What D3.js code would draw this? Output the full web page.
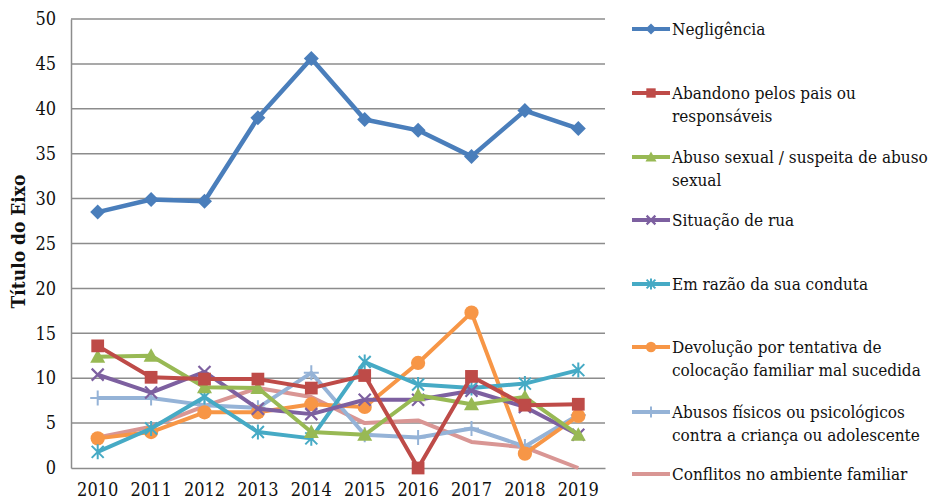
<!DOCTYPE html>
<html>
<head>
<meta charset="utf-8">
<script src="https://cdn.jsdelivr.net/npm/d3@7/dist/d3.min.js"></script>
<style>
  html, body { margin: 0; padding: 0; background: #fff; }
  svg { display: block; }
  text { font-family: "DejaVu Serif Condensed", "DejaVu Serif", serif; fill: #111; }
</style>
</head>
<body>
<svg id="chart" width="943" height="501"></svg>
<script>
// Categories (years) and y-axis ticks
const years = ["2010", "2011", "2012", "2013", "2014", "2015", "2016", "2017", "2018", "2019"];
const yTicks = [0, 5, 10, 15, 20, 25, 30, 35, 40, 45, 50];

// Series names
const seriesNames = [
  "Negligência",
  "Abandono pelos pais ou responsáveis",
  "Abuso sexual / suspeita de abuso sexual",
  "Situação de rua",
  "Em razão da sua conduta",
  "Devolução por tentativa de colocação familiar mal sucedida",
  "Abusos físicos ou psicológicos contra a criança ou adolescente",
  "Conflitos no ambiente familiar"
];

// Series values, one array per series
const negligencia = [28.5, 29.9, 29.7, 39.0, 45.6, 38.8, 37.6, 34.7, 39.8, 37.8];
const abandono     = [13.6, 10.1, 9.9, 9.9, 8.9, 10.3, 0.0, 10.2, 7.0, 7.1];
const abusoSexual  = [12.4, 12.5, 9.0, 8.9, 4.0, 3.7, 8.1, 7.1, 7.9, 3.7];
const situacaoRua  = [10.4, 8.4, 10.7, 6.6, 6.0, 7.6, 7.6, 8.6, 6.8, 3.7];
const conduta      = [1.8, 4.4, 7.9, 4.0, 3.3, 11.8, 9.3, 8.9, 9.4, 10.9];
const devolucao    = [3.3, 4.0, 6.2, 6.2, 7.1, 6.8, 11.7, 17.3, 1.6, 5.8];
const abusosFisicos = [7.8, 7.8, 7.0, 6.7, 10.6, 3.7, 3.4, 4.4, 2.4, 5.9];
const conflitos    = [3.4, 4.6, 6.9, 8.9, 7.9, 5.0, 5.3, 2.9, 2.3, 0.0];

// Legend text broken into lines
const legendLines = [
  ["Negligência"],
  ["Abandono pelos pais ou", "responsáveis"],
  ["Abuso sexual / suspeita de abuso", "sexual"],
  ["Situação de rua"],
  ["Em razão da sua conduta"],
  ["Devolução por tentativa de", "colocação familiar mal sucedida"],
  ["Abusos físicos ou psicológicos", "contra a criança ou adolescente"],
  ["Conflitos no ambiente familiar"]
];

const colors = ["#4A7EBB", "#BE4B48", "#98B954", "#7D60A0", "#46AAC5", "#F79646", "#95B3D7", "#D99694"];
const markers = ["diamond", "square", "triangle", "x", "asterisk", "circle", "plus", "none"];

const values = [negligencia, abandono, abusoSexual, situacaoRua, conduta, devolucao, abusosFisicos, conflitos];
const series = seriesNames.map((name, i) => ({ name, values: values[i], color: colors[i], marker: markers[i], lines: legendLines[i] }));

const svg = d3.select("#chart");
const plot = { left: 71, right: 605, top: 19, bottom: 468 };

const x = d3.scaleBand().domain(years).range([plot.left, plot.right]);
const xc = d => x(d) + x.bandwidth() / 2;
const y = d3.scaleLinear().domain([0, 50]).range([plot.bottom, plot.top]);

// Horizontal gridlines
svg.append("g")
  .selectAll("line")
  .data(yTicks.filter(t => t > 0))
  .join("line")
  .attr("x1", plot.left).attr("x2", plot.right)
  .attr("y1", d => y(d)).attr("y2", d => y(d))
  .attr("stroke", "#8c8c8c").attr("stroke-width", 1.5);

const tickFont = "DejaVu Serif Condensed, DejaVu Serif, serif";

// Y axis
const yAxis = svg.append("g")
  .attr("transform", `translate(${plot.left},0)`)
  .call(d3.axisLeft(y).tickValues(yTicks).tickSize(0).tickPadding(15));
yAxis.select(".domain").attr("stroke", "#8c8c8c").attr("stroke-width", 1.5);
yAxis.selectAll("text").style("font-family", tickFont).style("font-size", "18px").attr("fill", "#111");

// X axis
const xAxis = svg.append("g")
  .attr("transform", `translate(0,${plot.bottom})`)
  .call(d3.axisBottom(x).tickSize(0).tickPadding(15));
xAxis.select(".domain").attr("stroke", "#8c8c8c").attr("stroke-width", 1.5);
xAxis.selectAll("text").style("font-family", tickFont).style("font-size", "18px").attr("fill", "#111");

// Axis title
svg.append("text")
  .attr("transform", `translate(18,${(plot.top + plot.bottom) / 2 - 2}) rotate(-90)`)
  .attr("text-anchor", "middle")
  .attr("dy", "0.35em")
  .style("font-size", "19px").style("font-weight", "bold")
  .text("Título do Eixo");

// Marker drawing
function drawMarker(g, type, color, size) {
  const s = size;
  switch (type) {
    case "diamond":
      g.append("path").attr("d", `M0,${-s}L${s},0L0,${s}L${-s},0Z`).attr("fill", color);
      break;
    case "square":
      g.append("rect").attr("x", -s * 0.85).attr("y", -s * 0.85).attr("width", s * 1.7).attr("height", s * 1.7).attr("fill", color);
      break;
    case "triangle":
      g.append("path").attr("d", `M0,${-s}L${s},${s * 0.8}L${-s},${s * 0.8}Z`).attr("fill", color);
      break;
    case "circle":
      g.append("circle").attr("r", s * 0.95).attr("fill", color);
      break;
    case "x":
      g.append("path").attr("d", `M${-s * 0.8},${-s * 0.8}L${s * 0.8},${s * 0.8}M${-s * 0.8},${s * 0.8}L${s * 0.8},${-s * 0.8}`)
        .attr("stroke", color).attr("stroke-width", 2.2);
      break;
    case "asterisk":
      g.append("path").attr("d", `M${-s * 0.8},${-s * 0.8}L${s * 0.8},${s * 0.8}M${-s * 0.8},${s * 0.8}L${s * 0.8},${-s * 0.8}M0,${-s}L0,${s}`)
        .attr("stroke", color).attr("stroke-width", 2);
      break;
    case "plus":
      g.append("path").attr("d", `M${-s},0L${s},0M0,${-s}L0,${s}`)
        .attr("stroke", color).attr("stroke-width", 2);
      break;
  }
}

const line = d3.line().x((d, i) => xc(years[i])).y(d => y(d));

// Lines, drawn back to front so the first series sits on top
const seriesG = svg.append("g");
series.slice().reverse().forEach((s, k) => {
  const g = seriesG.append("g");
  g.append("path")
    .attr("d", line(s.values))
    .attr("fill", "none")
    .attr("stroke", s.color)
    .attr("stroke-width", s.name === "Negligência" ? 4.5 : 4)
    .attr("stroke-linejoin", "round");
  if (s.marker !== "none") {
    s.values.forEach((v, i) => {
      const m = g.append("g").attr("transform", `translate(${xc(years[i])},${y(v)})`);
      drawMarker(m, s.marker, s.color, 7.5);
    });
  }
});

// Legend
const legendY = [29, 93, 157, 220, 284, 347, 412, 474];
const legend = svg.append("g");
series.forEach((s, i) => {
  const g = legend.append("g").attr("transform", `translate(632,${legendY[i]})`);
  g.append("line").attr("x1", 0).attr("x2", 38).attr("y1", 0).attr("y2", 0)
    .attr("stroke", s.color).attr("stroke-width", 4);
  if (s.marker !== "none") {
    const m = g.append("g").attr("transform", "translate(19,0)");
    drawMarker(m, s.marker, s.color, 5.5);
  }
  s.lines.forEach((t, j) => {
    g.append("text")
      .attr("x", 40).attr("y", j * 23)
      .attr("dy", "0.35em")
      .style("font-size", "17px")
      .text(t);
  });
});
</script>
</body>
</html>
